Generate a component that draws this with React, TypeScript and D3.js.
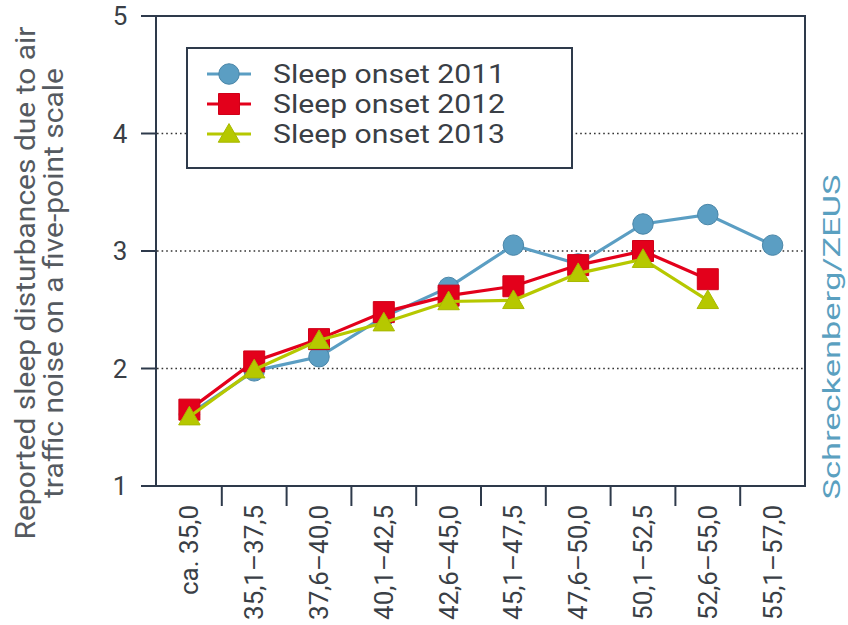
import React, { useEffect, useRef } from 'react';
import * as d3 from 'd3';

const categories = ['ca. 35,0', '35,1–37,5', '37,6–40,0', '40,1–42,5', '42,6–45,0', '45,1–47,5', '47,6–50,0', '50,1–52,5', '52,6–55,0', '55,1–57,0'];
const onset2011 = [1.61, 1.98, 2.10, 2.44, 2.69, 3.05, 2.89, 3.23, 3.31, 3.05];
const onset2012 = [1.65, 2.06, 2.25, 2.48, 2.62, 2.70, 2.88, 3.00, 2.76, null];
const onset2013 = [1.59, 1.99, 2.24, 2.39, 2.57, 2.58, 2.81, 2.93, 2.58, null];
const yTicks = [1, 2, 3, 4, 5];
const seriesNames = ['Sleep onset 2011', 'Sleep onset 2012', 'Sleep onset 2013'];

const axisColor = '#2e3a4b';
const textColor = '#3a3f46';
const font = 'Roboto, sans-serif';

export default function App() {
  const ref = useRef<SVGSVGElement>(null);

  useEffect(() => {
    const svg = d3.select(ref.current);
    svg.selectAll('*').remove();

    const x = d3.scaleBand().domain(categories).range([157, 805]).padding(0);
    const y = d3.scaleLinear().domain([1, 5]).range([486, 16]);

    const series = [
      { name: seriesNames[0], values: onset2011, color: '#5b9ec3', stroke: '#4a86a8', shape: 'circle' },
      { name: seriesNames[1], values: onset2012, color: '#e3001b', stroke: '#d00018', shape: 'square' },
      { name: seriesNames[2], values: onset2013, color: '#b6c800', stroke: '#a8b900', shape: 'triangle' },
    ];

    // dotted grid
    svg.append('g')
      .selectAll('line')
      .data([2, 3, 4])
      .enter()
      .append('line')
      .attr('x1', 157)
      .attr('x2', 805)
      .attr('y1', (d) => y(d))
      .attr('y2', (d) => y(d))
      .attr('stroke', '#333')
      .attr('stroke-width', 1.6)
      .attr('stroke-dasharray', '1.6,3');

    // frame
    const frame = svg.append('g').attr('stroke', axisColor).attr('stroke-width', 2).attr('fill', 'none');
    frame.append('line').attr('x1', 156).attr('x2', 156).attr('y1', y(5)).attr('y2', y(1));
    frame.append('line').attr('x1', 805).attr('x2', 805).attr('y1', y(5)).attr('y2', y(1));
    frame.append('line').attr('x1', 156).attr('x2', 806).attr('y1', y(5)).attr('y2', y(5));
    frame.append('line').attr('x1', 156).attr('x2', 806).attr('y1', y(1)).attr('y2', y(1));

    // y ticks
    frame.selectAll('.yt')
      .data(yTicks)
      .enter()
      .append('line')
      .attr('x1', 141)
      .attr('x2', 156)
      .attr('y1', (d) => y(d))
      .attr('y2', (d) => y(d));

    svg.append('g')
      .selectAll('text')
      .data(yTicks)
      .enter()
      .append('text')
      .attr('x', 120)
      .attr('y', (d) => y(d))
      .attr('dy', '0.36em')
      .attr('text-anchor', 'middle')
      .attr('font-family', font)
      .attr('font-size', 26)
      .attr('fill', textColor)
      .text((d) => d);

    // x ticks between bands
    frame.selectAll('.xt')
      .data(categories.slice(1))
      .enter()
      .append('line')
      .attr('x1', (d) => x(d)!)
      .attr('x2', (d) => x(d)!)
      .attr('y1', y(1))
      .attr('y2', y(1) + 20);

    svg.append('g')
      .selectAll('text')
      .data(categories)
      .enter()
      .append('text')
      .attr('transform', (d) => `translate(${x(d)! + x.bandwidth() / 2 + 9},505) rotate(-90)`)
      .attr('text-anchor', 'end')
      .attr('font-family', font)
      .attr('font-size', 26)
      .attr('fill', textColor)
      .text((d) => d);

    // lines and markers
    const symbol = (shape: string) => {
      if (shape === 'circle') return d3.symbol(d3.symbolCircle, 330)();
      if (shape === 'square') return d3.symbol(d3.symbolSquare, 441)();
      return d3.symbol(d3.symbolTriangle, 200)();
    };

    series.forEach((s) => {
      const pts = s.values
        .map((v, i) => ({ v, c: categories[i] }))
        .filter((p) => p.v !== null) as { v: number, c: string }[];
      const line = d3.line<{ v: number, c: string }>()
        .x((p) => x(p.c)! + x.bandwidth() / 2)
        .y((p) => y(p.v));
      const g = svg.append('g');
      g.append('path')
        .attr('d', line(pts))
        .attr('fill', 'none')
        .attr('stroke', s.color)
        .attr('stroke-width', 3.2);
      g.selectAll('path.m')
        .data(pts)
        .enter()
        .append('path')
        .attr('class', 'm')
        .attr('d', symbol(s.shape))
        .attr('transform', (p) => `translate(${x(p.c)! + x.bandwidth() / 2},${y(p.v) + (s.shape === 'triangle' ? 2 : 0)})`)
        .attr('fill', s.color)
        .attr('stroke', s.stroke)
        .attr('stroke-width', 1);
    });

    // legend
    const lg = svg.append('g');
    lg.append('rect')
      .attr('x', 187)
      .attr('y', 48)
      .attr('width', 385)
      .attr('height', 120)
      .attr('fill', '#fff')
      .attr('stroke', axisColor)
      .attr('stroke-width', 2);
    series.forEach((s, i) => {
      const ly = 74 + i * 30;
      lg.append('line')
        .attr('x1', 207)
        .attr('x2', 251)
        .attr('y1', ly)
        .attr('y2', ly)
        .attr('stroke', s.color)
        .attr('stroke-width', 3);
      lg.append('path')
        .attr('d', symbol(s.shape))
        .attr('transform', `translate(229,${ly + (s.shape === 'triangle' ? 2 : 0)})`)
        .attr('fill', s.color)
        .attr('stroke', s.stroke);
      lg.append('text')
        .attr('x', 273)
        .attr('y', ly + 9)
        .attr('font-family', font)
        .attr('font-size', 25)
        .attr('textLength', 232)
        .attr('lengthAdjust', 'spacingAndGlyphs')
        .attr('fill', textColor)
        .text(s.name);
    });

    // y axis title
    const title = svg.append('text')
      .attr('transform', 'translate(35,283) rotate(-90)')
      .attr('text-anchor', 'middle')
      .attr('font-family', font)
      .attr('font-size', 27)
      .attr('fill', '#555a60');
    title.append('tspan')
      .attr('x', 0)
      .attr('y', 0)
      .attr('textLength', 513)
      .attr('lengthAdjust', 'spacingAndGlyphs')
      .text('Reported sleep disturbances due to air');
    title.append('tspan')
      .attr('x', 0)
      .attr('y', 28)
      .attr('textLength', 430)
      .attr('lengthAdjust', 'spacingAndGlyphs')
      .text('traffic noise on a five-point scale');

    // credit
    svg.append('text')
      .attr('transform', 'translate(840,337) rotate(-90)')
      .attr('text-anchor', 'middle')
      .attr('font-family', font)
      .attr('font-size', 24)
      .attr('textLength', 325)
      .attr('lengthAdjust', 'spacingAndGlyphs')
      .attr('fill', '#5aa0c0')
      .text('Schreckenberg/ZEUS');
  }, []);

  return (
    <svg
      ref={ref}
      width={848}
      height={625}
      style={{ position: 'absolute', left: 0, top: 0, background: '#fff' }}
    />
  );
}
